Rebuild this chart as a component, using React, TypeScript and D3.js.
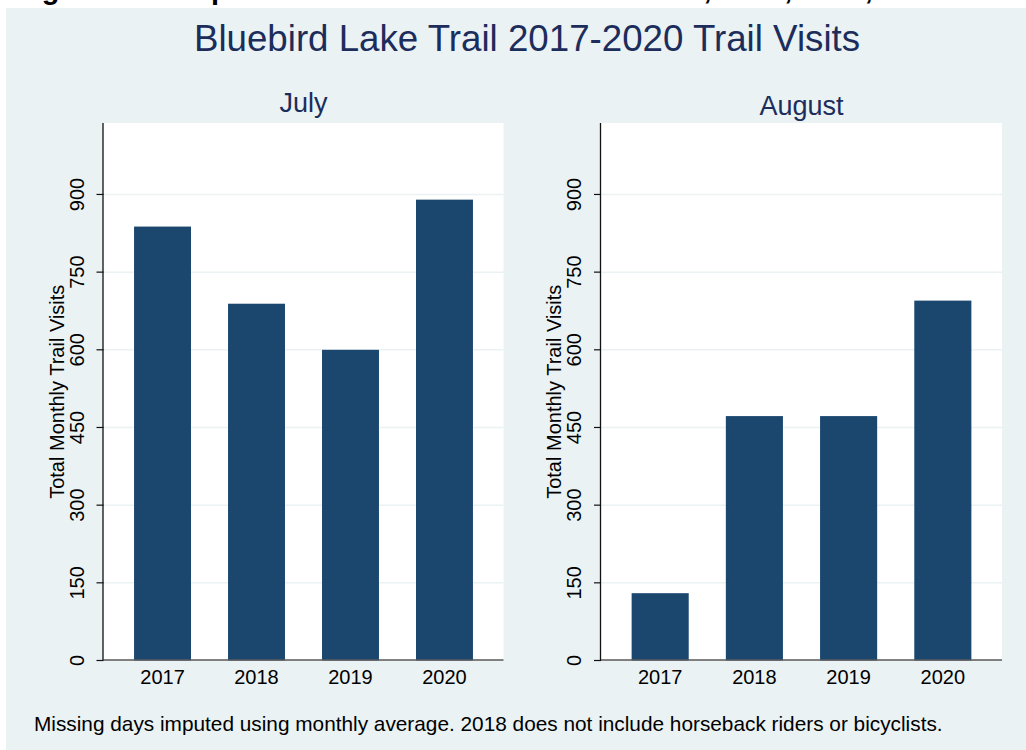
import React from "react";
import * as d3 from "d3";

const years = ["2017", "2018", "2019", "2020"];
const julyVisits = [838, 689, 600, 890];
const augustVisits = [130, 472, 472, 695];
const yTicks = [0, 150, 300, 450, 600, 750, 900];
const panelTitles = ["July", "August"];

const W = 1026;
const H = 750;
const FONT = "'Liberation Sans', Arial, Helvetica, sans-serif";
const BG = "#eaf2f3";
const BAR = "#1b476f";
const TITLE = "#1c2d5c";

type PanelProps = {
  x0: number;
  x1: number;
  title: string;
  titleY: number;
  values: number[];
};

const yTop = 123;
const yBottom = 660.5;
const y = d3.scaleLinear().domain([0, 1038]).range([yBottom, yTop]);

function Panel({ x0, x1, title, titleY, values }: PanelProps) {
  const x = d3
    .scaleBand<string>()
    .domain(years)
    .range([x0, x1])
    .paddingInner(0.394)
    .paddingOuter(0.325);
  return (
    <g>
      <rect x={x0} y={yTop} width={x1 - x0} height={yBottom - yTop} fill="#ffffff" />
      {yTicks.map((t) => (
        <line
          key={"g" + t}
          x1={x0}
          x2={x1}
          y1={y(t)}
          y2={y(t)}
          stroke={BG}
          strokeWidth={1.5}
        />
      ))}
      {years.map((yr, i) => (
        <rect
          key={yr}
          x={x(yr)}
          y={y(values[i])}
          width={x.bandwidth()}
          height={y(0) - y(values[i])}
          fill={BAR}
        />
      ))}
      <line x1={x0} x2={x1} y1={yBottom - 0.5} y2={yBottom - 0.5} stroke="#5a5a5a" strokeWidth={1.3} />
      <line x1={x0 - 0.5} x2={x0 - 0.5} y1={yTop} y2={yBottom} stroke="#111" strokeWidth={1.3} />
      {yTicks.map((t) => (
        <g key={"t" + t}>
          <line x1={x0 - 7} x2={x0} y1={y(t)} y2={y(t)} stroke="#111" strokeWidth={1.2} />
          <text
            transform={`translate(${x0 - 27},${y(t)}) rotate(-90)`}
            textAnchor="middle"
            dominantBaseline="central"
            fontFamily={FONT}
            fontSize={20}
            fill="#000"
          >
            {t}
          </text>
        </g>
      ))}
      <text
        transform={`translate(${x0 - 47},${(yTop + yBottom) / 2}) rotate(-90)`}
        textAnchor="middle"
        dominantBaseline="central"
        fontFamily={FONT}
        fontSize={20}
        fill="#000"
      >
        Total Monthly Trail Visits
      </text>
      {years.map((yr) => (
        <text
          key={"x" + yr}
          x={(x(yr) as number) + x.bandwidth() / 2}
          y={684}
          textAnchor="middle"
          fontFamily={FONT}
          fontSize={20}
          fill="#000"
        >
          {yr}
        </text>
      ))}
      <text
        x={(x0 + x1) / 2}
        y={titleY}
        textAnchor="middle"
        fontFamily={FONT}
        fontSize={27}
        fill={TITLE}
      >
        {title}
      </text>
    </g>
  );
}

export default function App() {
  return (
    <svg
      width={W}
      height={H}
      style={{ position: "absolute", left: 0, top: 0, background: "#ffffff" }}
    >
      <text x={16} y={-1.5} fontFamily={FONT} fontSize={29} fontWeight="bold" fill="#000">
        Figure 1: Comparison of Bluebird Lake Trail Visits, 2017, 2018, 2019 and 2020
      </text>
      <rect x={6} y={8} width={W - 6} height={H - 8} fill={BG} />
      <text
        x={527}
        y={51}
        textAnchor="middle"
        fontFamily={FONT}
        fontSize={36.7}
        fill={TITLE}
      >
        Bluebird Lake Trail 2017-2020 Trail Visits
      </text>
      <Panel x0={103.5} x1={503.5} title={panelTitles[0]} titleY={112} values={julyVisits} />
      <Panel x0={601} x1={1002} title={panelTitles[1]} titleY={115} values={augustVisits} />
      <text x={34} y={731} fontFamily={FONT} fontSize={20.8} fill="#000">
        Missing days imputed using monthly average. 2018 does not include horseback riders or bicyclists.
      </text>
    </svg>
  );
}
